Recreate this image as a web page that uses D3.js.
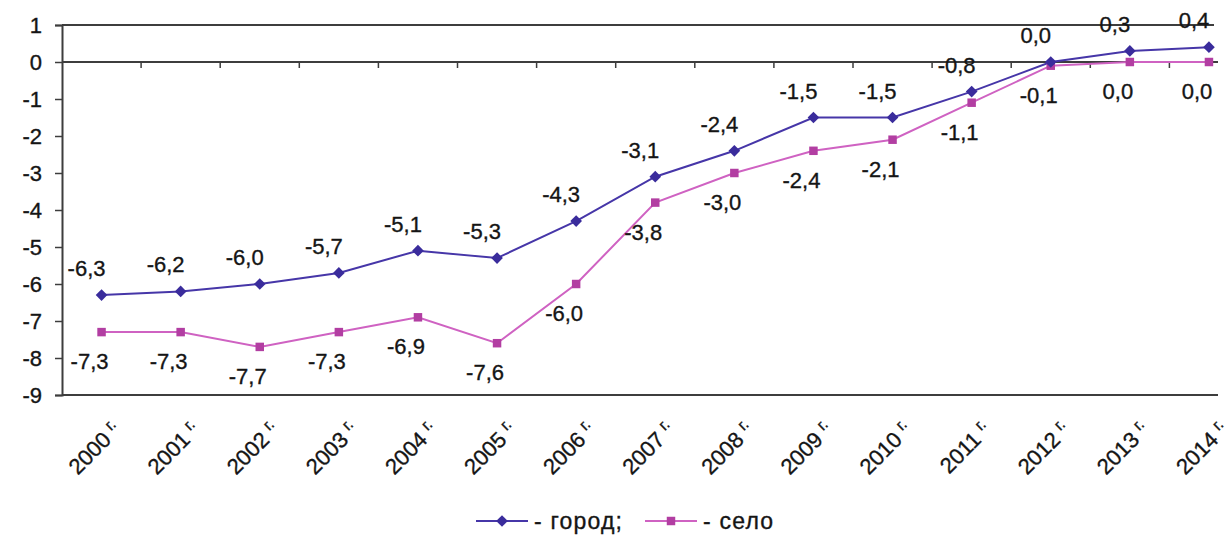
<!DOCTYPE html>
<html>
<head>
<meta charset="utf-8">
<script src="https://cdn.jsdelivr.net/npm/d3@7"></script>
<style>
  html, body { margin: 0; padding: 0; background: #ffffff; }
  svg { display: block; font-family: "Liberation Sans", Arial, sans-serif; }
  .lbl { stroke: #151515; stroke-width: 0.35px; }
</style>
</head>
<body>
<svg id="chart" width="1227" height="535"></svg>
<script>
// ---- data ----
const years = ["2000","2001","2002","2003","2004","2005","2006","2007","2008","2009","2010","2011","2012","2013","2014"];
const gorod = [-6.3, -6.2, -6.0, -5.7, -5.1, -5.3, -4.3, -3.1, -2.4, -1.5, -1.5, -0.8, 0.0, 0.3, 0.4];
const selo  = [-7.3, -7.3, -7.7, -7.3, -6.9, -7.6, -6.0, -3.8, -3.0, -2.4, -2.1, -1.1, -0.1, 0.0, 0.0];
const yTicks = [1, 0, -1, -2, -3, -4, -5, -6, -7, -8, -9];
const seriesNames = ["город;", "село"];
const yearSuffix = "г.";

// ---- layout ----
const svg = d3.select("#chart");
const plotLeft = 62, plotTop = 25, plotBottom = 395, rightEdge = 1218;
const step = 79.1;
const x = d3.scaleBand().domain(years).range([plotLeft, plotLeft + step * years.length]).paddingInner(0).paddingOuter(0);
const cx = d => x(d) + x.bandwidth() / 2;
const y = d3.scaleLinear().domain([-9, 1]).range([plotBottom, plotTop]);

const frameColor = "#3d3d3d";
const cGorodLine = "#4636a8", cGorodMark = "#3a2c9c";
const cSeloLine = "#cf62c2", cSeloMark = "#b23ea2";

svg.append("defs").append("clipPath").attr("id", "clip")
  .append("rect").attr("x", 0).attr("y", 0).attr("width", rightEdge).attr("height", 535);

const g = svg.append("g").attr("clip-path", "url(#clip)");

// frame lines
g.append("line").attr("x1", plotLeft).attr("x2", 1214).attr("y1", y(1)).attr("y2", y(1))
  .attr("stroke", frameColor).attr("stroke-width", 2);
g.append("line").attr("x1", plotLeft).attr("x2", rightEdge).attr("y1", y(-9)).attr("y2", y(-9))
  .attr("stroke", frameColor).attr("stroke-width", 2.2);

// y axis
const yAxis = d3.axisLeft(y).tickValues(yTicks).tickSize(7).tickPadding(13).tickFormat(d => String(d));
const ya = svg.append("g").attr("transform", `translate(${plotLeft},0)`).call(yAxis);
ya.select(".domain").attr("stroke", frameColor).attr("stroke-width", 2);
ya.selectAll(".tick line").attr("stroke", frameColor).attr("stroke-width", 1.5);
ya.selectAll(".tick text").attr("class", "lbl").attr("font-size", 22).attr("fill", "#151515")
  .attr("font-family", "'Liberation Sans', Arial, sans-serif").attr("dy", "0.35em");

// zero axis line with category boundary ticks
g.append("line").attr("x1", plotLeft).attr("x2", rightEdge).attr("y1", y(0)).attr("y2", y(0))
  .attr("stroke", frameColor).attr("stroke-width", 2);
g.selectAll(".zt").data(years.slice(1)).enter().append("line")
  .attr("x1", d => x(d)).attr("x2", d => x(d))
  .attr("y1", y(0)).attr("y2", y(0) + 6)
  .attr("stroke", frameColor).attr("stroke-width", 1.5);

// x labels (rotated)
const xl = svg.append("g");
years.forEach(yr => {
  const t = xl.append("text").attr("class", "lbl")
    .attr("transform", `translate(${cx(yr) + 21},${plotBottom + 36}) rotate(-45)`)
    .attr("text-anchor", "end")
    .attr("font-size", 22).attr("fill", "#151515");
  t.append("tspan").text(yr + (yr === "2010" ? "  " : " "));
  t.append("tspan").attr("font-size", 16).attr("dy", -8).text(yearSuffix);
});

// lines
const line = d3.line().x((d, i) => cx(years[i])).y(d => y(d));
g.append("path").datum(selo).attr("d", line).attr("fill", "none")
  .attr("stroke", cSeloLine).attr("stroke-width", 2);
g.append("path").datum(gorod).attr("d", line).attr("fill", "none")
  .attr("stroke", cGorodLine).attr("stroke-width", 2);

// markers
const diamond = d3.symbol().type(d3.symbolSquare).size(68);
const square = d3.symbol().type(d3.symbolSquare).size(72);
g.selectAll(".ms").data(selo).enter().append("path")
  .attr("d", square).attr("fill", cSeloMark)
  .attr("transform", (d, i) => `translate(${cx(years[i])},${y(d)})`);
g.selectAll(".mg").data(gorod).enter().append("path")
  .attr("d", diamond).attr("fill", cGorodMark)
  .attr("transform", (d, i) => `translate(${cx(years[i])},${y(d)}) rotate(45)`);

// data labels
const fmt = v => v.toFixed(1).replace(".", ",");
svg.selectAll(".lg").data(gorod).enter().append("text").attr("class", "lbl")
  .attr("x", (d, i) => cx(years[i]) - 15).attr("y", d => y(d) - 19)
  .attr("text-anchor", "middle").attr("font-size", 22).attr("fill", "#151515")
  .text(fmt);
svg.selectAll(".ls").data(selo).enter().append("text").attr("class", "lbl")
  .attr("x", (d, i) => cx(years[i]) - 12).attr("y", d => y(d) + 37)
  .attr("text-anchor", "middle").attr("font-size", 22).attr("fill", "#151515")
  .text(fmt);

// legend
const ly = 521;
const leg = svg.append("g");
function legendItem(x0, color, mark, symbol, rot, label) {
  leg.append("line").attr("x1", x0).attr("x2", x0 + 52).attr("y1", ly).attr("y2", ly)
    .attr("stroke", color).attr("stroke-width", 2);
  leg.append("path").attr("d", symbol).attr("fill", mark)
    .attr("transform", `translate(${x0 + 26},${ly}) rotate(${rot})`);
  leg.append("text").attr("class", "lbl").attr("x", x0 + 58).attr("y", ly + 8)
    .attr("font-size", 23).attr("letter-spacing", 1.2).attr("fill", "#151515")
    .text("- " + label);
}
legendItem(476, cGorodLine, cGorodMark, diamond, 45, seriesNames[0]);
legendItem(645, cSeloLine, cSeloMark, square, 0, seriesNames[1]);
</script>
</body>
</html>
